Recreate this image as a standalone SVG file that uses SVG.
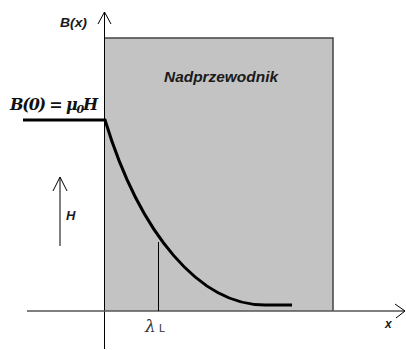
<svg xmlns="http://www.w3.org/2000/svg" width="406" height="350" viewBox="0 0 406 350">
<style>
.lbl{font-family:"Liberation Sans",Arial,sans-serif;font-weight:bold;font-style:italic;fill:#1a1a1a}
.ax{stroke:#000;stroke-width:1;fill:none}
.thick{stroke:#000;stroke-width:3;fill:none}
</style>
<rect width="406" height="350" fill="#fff"/>
<g id="superconductor">
<rect x="105" y="38" width="228" height="273" fill="#c3c3c3"/>
<path d="M105,38 H333 V311" fill="none" stroke="#444" stroke-width="1.5"/>
<text class="lbl" x="164" y="82" font-size="14.5" textLength="114" lengthAdjust="spacingAndGlyphs">Nadprzewodnik</text>
</g>
<g id="connectors">
<line class="ax" x1="104.5" y1="12" x2="104.5" y2="349"/>
<polyline class="ax" points="98,24 104.5,12 111,24"/>
<line x1="27" y1="311" x2="405" y2="311" stroke="#555" stroke-width="1.5"/>
<polyline class="ax" points="395,304 405,311 396,318"/>
<line class="ax" x1="60" y1="246" x2="60" y2="177"/>
<polyline class="ax" points="53,191 60,177 67,191"/>
<line class="ax" x1="158.5" y1="242" x2="158.5" y2="311"/>
</g>
<g id="curve">
<path class="thick" d="M23,120 H105 C140,235 200,305 265,305 H292"/>
</g>
<g id="labels">
<text class="lbl" x="60" y="27" font-size="13" textLength="27" lengthAdjust="spacingAndGlyphs">B(x)</text>
<text x="10" y="110" font-family="'DejaVu Serif','Liberation Serif',serif" font-weight="bold" font-style="italic" font-size="16" fill="#111" textLength="88">B(0) = μ<tspan font-size="11" dy="3">0</tspan><tspan dy="-3">H</tspan></text>
<text class="lbl" x="66" y="220" font-size="13">H</text>
<text x="145" y="332" font-family="'DejaVu Serif','Liberation Serif',serif" font-style="italic" font-size="17" fill="#333">λ</text>
<text x="159" y="332" font-family="'Liberation Sans',Arial,sans-serif" font-size="11" fill="#333">L</text>
<text class="lbl" x="385" y="328" font-size="12">x</text>
</g>
</svg>
